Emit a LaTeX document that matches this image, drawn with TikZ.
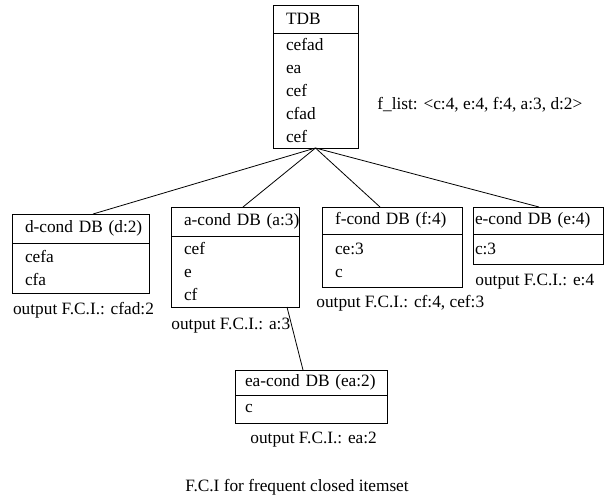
\documentclass[tikz,border=0pt]{standalone}
\usepackage{fontspec}
\setmainfont{Liberation Serif}
\usetikzlibrary{positioning}
\newcommand{\dbfont}{\fontsize{17.3}{23}\selectfont}

\begin{document}
\begin{tikzpicture}[x=1pt,y=1pt,line width=0.8pt,
						every node/.style={font=\dbfont},
						head/.style={draw,inner xsep=13pt,inner ysep=0pt,outer sep=0pt,align=left},
						rows/.style={draw,inner xsep=13pt,inner ysep=0pt,outer sep=0pt,align=left},
						fci/.style={anchor=west,inner sep=0pt}]
		\useasboundingbox (0,0) rectangle (606,-499);

		\node[head,anchor=north,text width=59pt,minimum height=28pt]		(tdbhead)	at (315.5,-5) {TDB};
		\node[rows,text width=59pt,minimum height=115pt,below=0pt of tdbhead]	(tdbrows)	{cefad\\ea\\cef\\cfad\\cef};
		\node[fci,right=19pt of tdbrows,yshift=-14.5pt]	(flist)	{f\_list: \textless c:4, e:4, f:4, a:3, d:2\textgreater};

		\node[head,text width=111pt,minimum height=29pt,below=66pt of tdbrows,xshift=-235pt]	(dhead)	{\mbox{d-cond DB (d:2)}};
		\node[rows,text width=111pt,minimum height=50pt,below=0pt of dhead]	(drows)	{cefa\\cfa};
		\node[head,text width=102pt,minimum height=29pt,below=59pt of tdbrows,xshift=-80.5pt]	(ahead)	{\mbox{a-cond DB (a:3)}};
		\node[rows,text width=102pt,minimum height=71pt,below=0pt of ahead]	(arows)	{cef\\e\\cf};
		\node[head,text width=114pt,minimum height=27pt,below=59pt of tdbrows,xshift=76.5pt]	(fhead)	{\mbox{f-cond DB (f:4)}};
		\node[rows,text width=114pt,minimum height=53pt,below=0pt of fhead]	(frows)	{ce:3\\c};
		\node[head,inner xsep=2pt,text width=126pt,minimum height=27pt,below=59pt of tdbrows,xshift=222.5pt]	(ehead)	{\mbox{e-cond DB (e:4)}};
		\node[rows,inner xsep=2pt,text width=126pt,minimum height=30pt,below=0pt of ehead]	(erows)	{c:3};
		\node[head,inner xsep=10pt,text width=132pt,minimum height=25pt,below=63pt of arows,xshift=76pt]	(eahead)	{\mbox{ea-cond DB (ea:2)}};
		\node[rows,inner xsep=10pt,text width=132pt,minimum height=28pt,below=0pt of eahead]	(earows)	{c};

		\node[fci]	(dout)	at ([xshift=0.7pt,yshift=-17pt]drows.south west)	{output F.C.I.: cfad:2};
		\node[fci]	(aout)	at ([yshift=-19pt]arows.south west)	{output F.C.I.: a:3};
		\node[fci]	(fout)	at ([xshift=-6pt,yshift=-16pt]frows.south west)	{output F.C.I.: cf:4, cef:3};
		\node[fci]	(eout)	at ([xshift=2pt,yshift=-18pt]erows.south west)	{output F.C.I.: e:4};
		\node[fci]	(eaout)	at ([xshift=15pt,yshift=-17pt]earows.south west)	{output F.C.I.: ea:2};
		\node	(caption)	at (297,-487)	{F.C.I for frequent closed itemset};

		\draw (tdbrows.south) -- ([xshift=12.5pt]dhead.north);
		\draw (tdbrows.south) -- ([xshift=8pt]ahead.north);
		\draw (tdbrows.south) -- ([xshift=-12pt]fhead.north);
		\draw (tdbrows.south) -- ([xshift=1pt]ehead.north);
		\draw ([xshift=52pt]arows.south) -- ([xshift=-8pt]eahead.north);
	\end{tikzpicture}
\end{document}
